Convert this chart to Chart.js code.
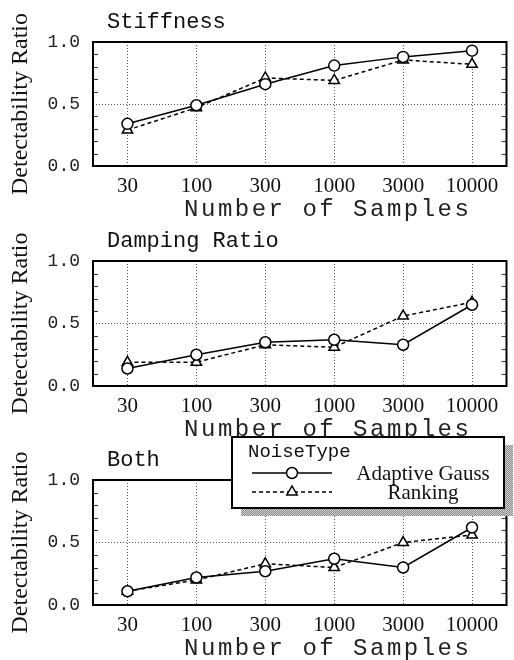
<!DOCTYPE html>
<html>
<head>
<meta charset="utf-8">
<script src="https://cdn.jsdelivr.net/npm/chart.js@4.4.0/dist/chart.umd.min.js"></script>
<style>
  html, body { margin: 0; padding: 0; background: #fff; overflow: hidden; }
  body { width: 514px; height: 660px; position: relative; }
  canvas { position: absolute; left: 0; }
</style>
</head>
<body>
<canvas id="stiffChart" width="514" height="230" style="top:0px"></canvas>
<canvas id="dampChart" width="514" height="230" style="top:220px"></canvas>
<canvas id="bothChart" width="514" height="235" style="top:425px"></canvas>
<script>
// Data
const sampleLabels = ['30', '100', '300', '1000', '3000', '10000'];
const yTickValues = [0, 0.5, 1.0];
const seriesNames = ['Adaptive Gauss', 'Ranking'];

const stiffGauss = [0.34, 0.49, 0.66, 0.81, 0.88, 0.93];
const stiffRank = [0.29, 0.47, 0.71, 0.69, 0.855, 0.82];
const dampGauss = [0.14, 0.25, 0.35, 0.37, 0.33, 0.65];
const dampRank = [0.19, 0.19, 0.33, 0.31, 0.56, 0.67];
const bothGauss = [0.11, 0.22, 0.27, 0.37, 0.30, 0.62];
const bothRank = [0.11, 0.20, 0.33, 0.30, 0.50, 0.56];

const MONO = '"Liberation Mono", "DejaVu Sans Mono", monospace';
const SERIF = '"Liberation Serif", "DejaVu Serif", serif';

// frame, minor ticks, panel title and x title
const panelText = {
    id: 'panelText',
    afterDraw(chart, args, opts) {
        const ctx = chart.ctx;
        const a = chart.chartArea;
        const y = chart.scales.y;
        ctx.save();
        // minor ticks inside the frame
        ctx.strokeStyle = '#333';
        ctx.lineWidth = 1;
        for (let v = 0.1; v < 0.95; v += 0.1) {
            if (Math.abs(v - 0.5) < 0.01) continue;
            const py = Math.round(y.getPixelForValue(v)) + 0.5;
            ctx.beginPath();
            ctx.moveTo(a.left, py); ctx.lineTo(a.left + 5, py);
            ctx.moveTo(a.right - 5, py); ctx.lineTo(a.right, py);
            ctx.stroke();
        }
        // frame
        ctx.strokeStyle = '#000';
        ctx.lineWidth = 2;
        ctx.strokeRect(a.left, a.top, a.right - a.left, a.bottom - a.top);
        // titles
        ctx.fillStyle = '#111';
        ctx.textBaseline = 'middle';
        ctx.font = '22px ' + MONO;
        ctx.textAlign = 'left';
        ctx.fillText(opts.title, a.left + 14, a.top - 20);
        ctx.fillStyle = '#222';
        ctx.font = '24px ' + MONO;
        ctx.letterSpacing = '2.5px';
        ctx.textAlign = 'center';
        ctx.fillText('Number of Samples', (a.left + a.right) / 2 + 28, a.bottom + 44);
        ctx.restore();
    }
};

function drawMarker(ctx, style, x, y, r) {
    ctx.beginPath();
    if (style === 'circle') {
        ctx.arc(x, y, r, 0, Math.PI * 2);
    } else {
        ctx.moveTo(x, y - r);
        ctx.lineTo(x + r * 0.866, y + r * 0.5);
        ctx.lineTo(x - r * 0.866, y + r * 0.5);
        ctx.closePath();
    }
    ctx.fill();
    ctx.stroke();
}

// boxed legend with a dotted shadow
const noiseLegend = {
    id: 'noiseLegend',
    afterDraw(chart) {
        const ctx = chart.ctx;
        const x = 232, y = 12, w = 272, h = 71;
        const pc = document.createElement('canvas');
        pc.width = 2; pc.height = 2;
        const p = pc.getContext('2d');
        p.fillStyle = '#d0d0d0'; p.fillRect(0, 0, 2, 2);
        p.fillStyle = '#8a8a8a'; p.fillRect(0, 0, 1, 1); p.fillRect(1, 1, 1, 1);
        ctx.save();
        ctx.fillStyle = ctx.createPattern(pc, 'repeat');
        ctx.fillRect(x + 9, y + 8, w, h);
        ctx.fillStyle = '#fff';
        ctx.fillRect(x, y, w, h);
        ctx.strokeStyle = '#000';
        ctx.lineWidth = 2;
        ctx.strokeRect(x, y, w, h);

        ctx.fillStyle = '#111';
        ctx.textBaseline = 'middle';
        ctx.textAlign = 'left';
        ctx.font = '19px ' + MONO;
        ctx.fillText('NoiseType', x + 16, y + 15);

        chart.data.datasets.forEach((ds, i) => {
            const ly = y + 36 + i * 19;
            ctx.strokeStyle = '#000';
            ctx.lineWidth = ds.borderWidth;
            ctx.setLineDash(ds.borderDash || []);
            ctx.beginPath();
            ctx.moveTo(x + 20, ly); ctx.lineTo(x + 100, ly);
            ctx.stroke();
            ctx.setLineDash([]);
            ctx.fillStyle = '#fff';
            ctx.lineWidth = ds.pointBorderWidth;
            drawMarker(ctx, ds.pointStyle, x + 60, ly, ds.pointRadius);
            ctx.fillStyle = '#111';
            ctx.font = '21px ' + SERIF;
            ctx.textAlign = 'center';
            ctx.fillText(ds.label, x + 191, ly + 1);
        });
        ctx.restore();
    }
};

function makePanel(id, title, gauss, rank, padTop, xHeight, withLegend) {
    const ctx = document.getElementById(id).getContext('2d');
    return new Chart(ctx, {
        type: 'line',
        data: {
            labels: sampleLabels,
            datasets: [{
                label: seriesNames[0],
                data: gauss,
                borderColor: '#000',
                borderWidth: 1.5,
                pointStyle: 'circle',
                pointRadius: 5.5,
                pointBorderWidth: 1.5,
                pointBackgroundColor: '#fff',
                pointBorderColor: '#000',
                tension: 0
            }, {
                label: seriesNames[1],
                data: rank,
                borderColor: '#000',
                borderWidth: 1.5,
                borderDash: [4, 3],
                pointStyle: 'triangle',
                pointRadius: 6,
                pointBorderWidth: 1.5,
                pointBackgroundColor: '#fff',
                pointBorderColor: '#000',
                tension: 0
            }]
        },
        options: {
            responsive: false,
            animation: false,
            layout: { padding: { top: padTop, right: 4, left: 0, bottom: 0 } },
            plugins: {
                legend: { display: false },
                tooltip: { enabled: false },
                panelText: { title: title }
            },
            scales: {
                x: {
                    offset: true,
                    afterFit: function (scale) { scale.height = xHeight; },
                    grid: { color: '#555', lineWidth: 1, drawTicks: false },
                    border: { display: false, dash: [1, 2] },
                    ticks: { color: '#111', padding: 8, font: { family: SERIF, size: 21 } }
                },
                y: {
                    min: 0,
                    max: 1,
                    afterFit: function (scale) { scale.width = 93; },
                    afterBuildTicks: function (scale) {
                        scale.ticks = yTickValues.map(v => ({ value: v }));
                    },
                    grid: {
                        drawTicks: false,
                        lineWidth: 1,
                        color: c => (c.tick && c.tick.value === 0.5) ? '#555' : 'rgba(0,0,0,0)'
                    },
                    border: { display: false, dash: [1, 2] },
                    ticks: {
                        color: '#222',
                        padding: 13,
                        font: { family: MONO, size: 18 },
                        callback: v => Number(v).toFixed(1)
                    },
                    title: {
                        display: true,
                        text: 'Detectability Ratio',
                        color: '#111',
                        padding: { top: 6, bottom: 0 },
                        font: { family: SERIF, size: 24 }
                    }
                }
            }
        },
        plugins: withLegend ? [panelText, noiseLegend] : [panelText]
    });
}

makePanel('stiffChart', 'Stiffness', stiffGauss, stiffRank, 42, 64, false);
makePanel('dampChart', 'Damping Ratio', dampGauss, dampRank, 41, 64, false);
makePanel('bothChart', 'Both', bothGauss, bothRank, 55, 55, true);
</script>
</body>
</html>
